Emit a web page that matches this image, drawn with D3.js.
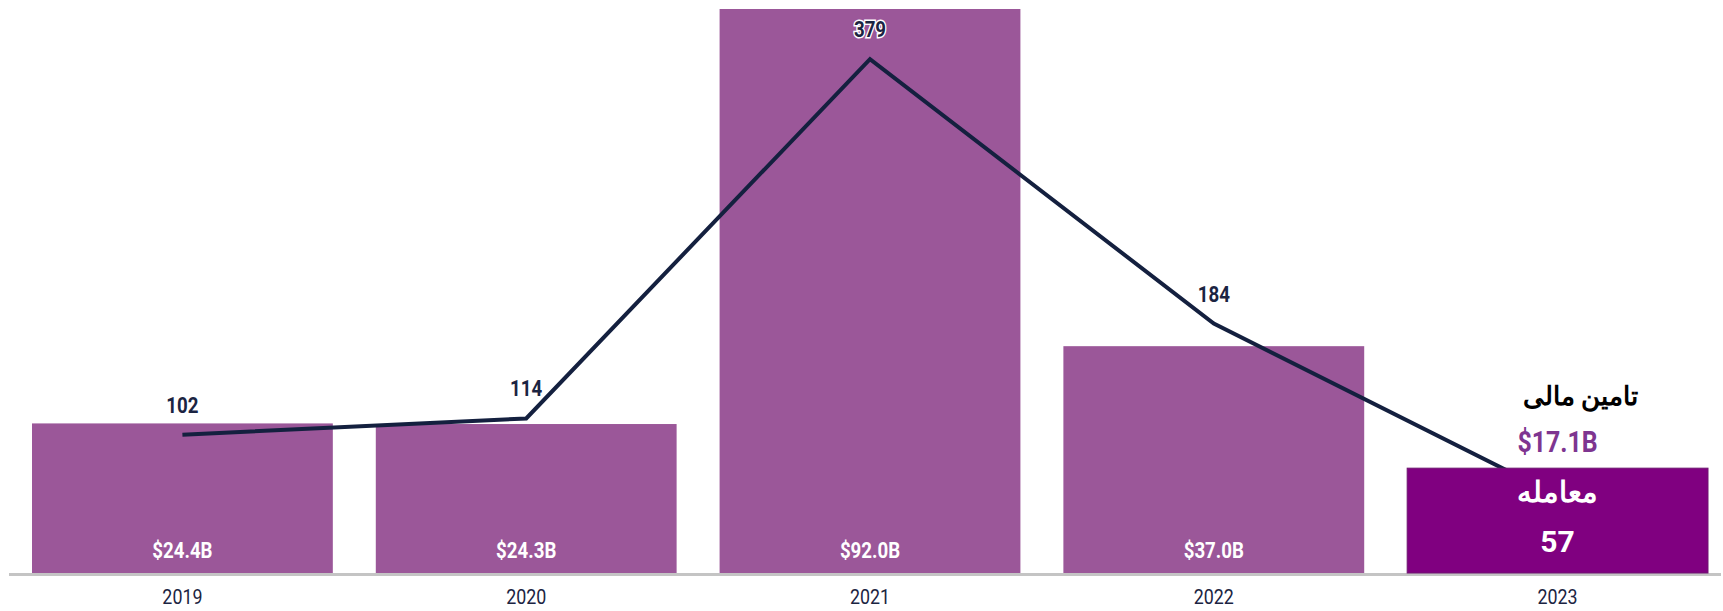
<!DOCTYPE html>
<html>
<head>
<meta charset="utf-8">
<script src="https://cdn.jsdelivr.net/npm/d3@7"></script>
<style>
  body { margin: 0; background: #fff; }
  text { font-family: "Liberation Sans Narrow", "Roboto", sans-serif; }
</style>
</head>
<body>
<div id="chart"></div>
<script>
// data
const years = ["2019", "2020", "2021", "2022", "2023"];
const funding = [24.4, 24.3, 92.0, 37.0, 17.1];     // billions $
const deals = [102, 114, 379, 184, 57];
const fundingLabels = ["$24.4B", "$24.3B", "$92.0B", "$37.0B", "$17.1B"];

const colors = {
  bar: "#9b5799",
  barLast: "#800080",
  line: "#14203f",
  axis: "#c4c4c4",
  label: "#1b2442"
};

const width = 1723;
const height = 611;
const baseY = 573;
const topY = 9;
const squeeze = 0.85; // fake a condensed face

const svg = d3.select("#chart").append("svg")
    .attr("width", width)
    .attr("height", height)
    .attr("viewBox", [0, 0, width, height]);

const x = d3.scaleBand()
    .domain(years)
    .range([32, 1708])
    .paddingInner(0.125)
    .paddingOuter(0);

const y = d3.scaleLinear().domain([0, 92]).range([baseY, topY]);
const yDeals = d3.scaleLinear().domain([0, 416]).range([baseY, topY]);

const rows = years.map((yr, i) => ({year: yr, funding: funding[i], deals: deals[i], label: fundingLabels[i]}));
const last = rows[rows.length - 1];
const mid = d => x(d.year) + x.bandwidth() / 2;

// condensed text positioned with a transform
function place(sel, fx, fy, k = squeeze) {
  sel.attr("transform", (d, i) => `translate(${fx(d, i)},${fy(d, i)}) scale(${k},1)`)
     .attr("text-anchor", "middle");
}

// baseline
svg.append("line")
    .attr("x1", 9).attr("x2", 1721)
    .attr("y1", baseY + 1.5).attr("y2", baseY + 1.5)
    .attr("stroke", colors.axis)
    .attr("stroke-width", 3);

// bars 2019-2022
svg.append("g")
  .selectAll("rect")
  .data(rows.slice(0, -1))
  .join("rect")
    .attr("x", d => x(d.year))
    .attr("y", d => y(d.funding))
    .attr("width", x.bandwidth())
    .attr("height", d => baseY - y(d.funding))
    .attr("fill", colors.bar);

// deals line
const line = d3.line()
    .x(mid)
    .y(d => yDeals(d.deals));

svg.append("path")
    .datum(rows)
    .attr("fill", "none")
    .attr("stroke", colors.line)
    .attr("stroke-width", 4)
    .attr("d", line);

// last bar drawn over the line
svg.append("rect")
    .attr("x", x(last.year))
    .attr("y", y(last.funding))
    .attr("width", x.bandwidth())
    .attr("height", baseY - y(last.funding))
    .attr("fill", colors.barLast)
    .attr("stroke", "#6e1570")
    .attr("stroke-width", 1);

// deal counts above points (not for 2023)
svg.append("g")
  .selectAll("text")
  .data(rows.slice(0, -1))
  .join("text")
    .call(place, mid, d => yDeals(d.deals) - 22)
    .attr("font-size", 22)
    .attr("font-weight", "bold")
    .attr("fill", colors.label)
    .attr("stroke", "#fff")
    .attr("stroke-width", 3)
    .attr("paint-order", "stroke")
    .text(d => d.deals);

// funding inside bars
svg.append("g")
  .selectAll("text")
  .data(rows.slice(0, -1))
  .join("text")
    .call(place, mid, () => baseY - 15)
    .attr("font-size", 22)
    .attr("font-weight", "bold")
    .attr("fill", "#fff")
    .text(d => d.label);

// year labels
svg.append("g")
  .selectAll("text")
  .data(rows)
  .join("text")
    .call(place, mid, () => 604)
    .attr("font-size", 21)
    .attr("fill", colors.label)
    .text(d => d.year);

// 2023 highlight labels
const cx = mid(last);

svg.append("text")
    .attr("x", cx + 23)
    .attr("y", 405)
    .attr("text-anchor", "middle")
    .attr("font-family", "DejaVu Sans, Noto Sans, sans-serif")
    .attr("font-size", 26)
    .attr("font-weight", "bold")
    .attr("fill", "#000")
    .text("تامین مالی");

svg.append("text")
    .datum(last)
    .call(place, () => cx, () => 452, 0.83)
    .attr("font-size", 30)
    .attr("font-weight", "bold")
    .attr("fill", "#7e3590")
    .text(d => d.label);

svg.append("text")
    .attr("x", cx)
    .attr("y", 502)
    .attr("text-anchor", "middle")
    .attr("font-family", "DejaVu Sans, Noto Sans, sans-serif")
    .attr("font-size", 29)
    .attr("font-weight", "bold")
    .attr("fill", "#fff")
    .text("معامله");

svg.append("text")
    .attr("x", cx)
    .attr("y", 552)
    .attr("text-anchor", "middle")
    .attr("font-family", "Noto Sans, Open Sans, sans-serif")
    .attr("font-size", 30)
    .attr("font-weight", "bold")
    .attr("fill", "#fff")
    .text(last.deals);
</script>
</body>
</html>
